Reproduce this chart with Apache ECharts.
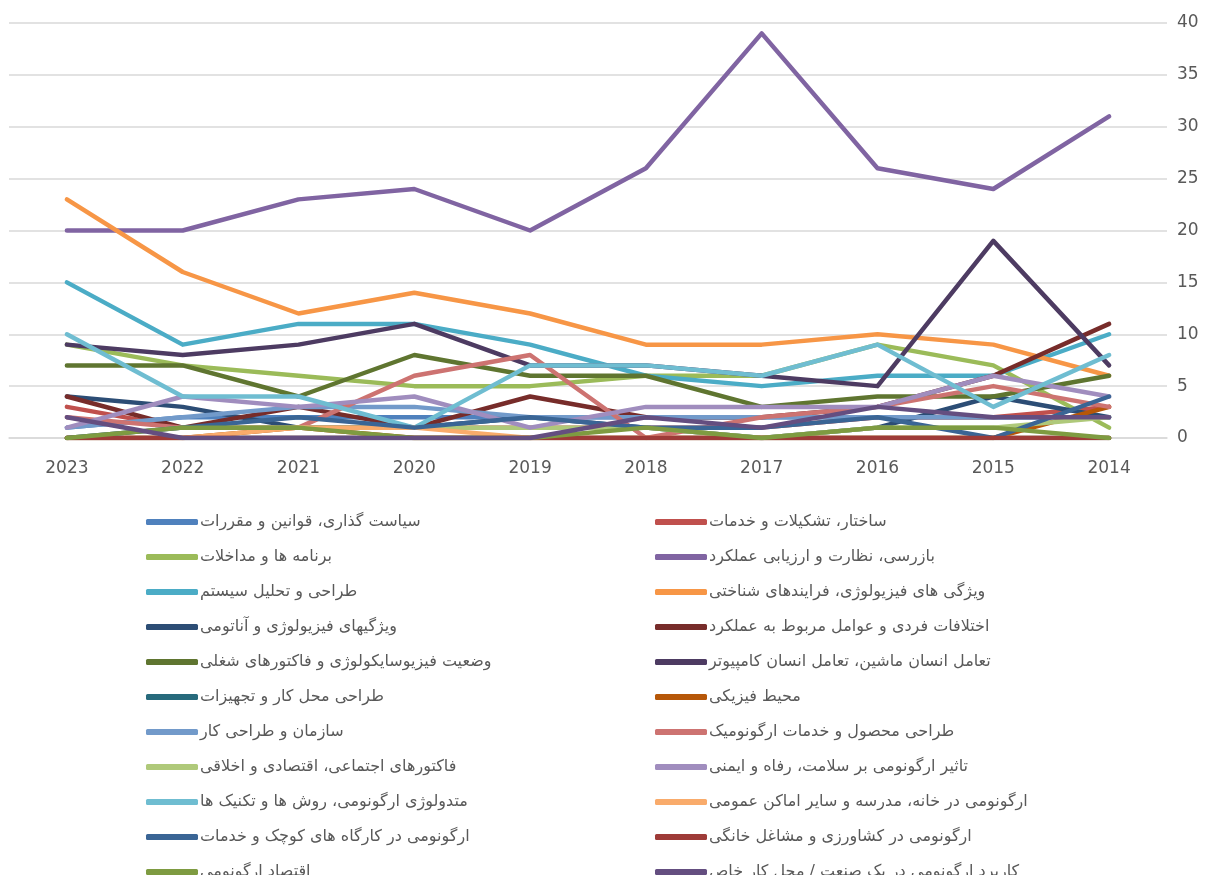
<!DOCTYPE html>
<html><head><meta charset="utf-8">
<script src="https://cdn.jsdelivr.net/npm/echarts@6/dist/echarts.min.js"></script>
<style>html,body{margin:0;padding:0;background:#fff}#c{width:1210px;height:875px}</style>
</head><body><div id="c"></div>
<script>
const years = ['2023','2022','2021','2020','2019','2018','2017','2016','2015','2014'];
const names = [
 'سیاست گذاری، قوانین و مقررات',
 'ساختار، تشکیلات و خدمات',
 'برنامه ها و مداخلات',
 'بازرسی، نظارت و ارزیابی عملکرد',
 'طراحی و تحلیل سیستم',
 'ویژگی های فیزیولوژی، فرایندهای شناختی',
 'ویژگیهای فیزیولوژی و آناتومی',
 'اختلافات فردی و عوامل مربوط به عملکرد',
 'وضعیت فیزیوسایکولوژی و فاکتورهای شغلی',
 'تعامل انسان ماشین، تعامل انسان کامپیوتر',
 'طراحی محل کار و تجهیزات',
 'محیط فیزیکی',
 'سازمان و طراحی کار',
 'طراحی محصول و خدمات ارگونومیک',
 'فاکتورهای اجتماعی، اقتصادی و اخلاقی',
 'تاثیر ارگونومی بر سلامت، رفاه و ایمنی',
 'متدولوژی ارگونومی، روش ها و تکنیک ها',
 'ارگونومی در خانه، مدرسه و سایر اماکن عمومی',
 'ارگونومی در کارگاه های کوچک و خدمات',
 'ارگونومی در کشاورزی و مشاغل خانگی',
 'اقتصاد ارگونومی',
 'کاربرد ارگونومی در یک صنعت / محل کار خاص'
];
const s1  = [1,2,2,2,2,2,2,2,2,2];
const s2  = [3,1,1,1,1,1,1,2,2,3];
const s3  = [9,7,6,5,5,6,6,9,7,1];
const s4  = [20,20,23,24,20,26,39,26,24,31];
const s5  = [15,9,11,11,9,6,5,6,6,10];
const s6  = [23,16,12,14,12,9,9,10,9,6];
const s7  = [4,3,1,1,2,1,0,1,4,2];
const s8  = [4,1,3,1,4,2,2,3,6,11];
const s9  = [7,7,4,8,6,6,3,4,4,6];
const s10 = [9,8,9,11,7,7,6,5,19,7];
const s11 = [0,0,0,0,0,0,0,0,0,0];
const s12 = [0,0,1,0,0,0,0,0,0,3];
const s13 = [1,2,3,3,2,2,2,2,2,2];
const s14 = [2,1,1,6,8,0,2,3,5,3];
const s15 = [0,1,1,1,1,1,0,1,1,2];
const s16 = [1,4,3,4,1,3,3,3,6,4];
const s17 = [10,4,4,1,7,7,6,9,3,8];
const s18 = [0,0,1,1,0,0,0,0,0,0];
const s19 = [0,1,2,1,2,1,1,2,0,4];
const s20 = [0,0,0,0,0,0,0,0,0,0];
const s21 = [0,1,1,0,0,1,0,1,1,0];
const s22 = [2,0,0,0,0,2,1,3,2,2];
const values = [s1,s2,s3,s4,s5,s6,s7,s8,s9,s10,s11,s12,s13,s14,s15,s16,s17,s18,s19,s20,s21,s22];
const colors = ['#4F81BD','#C0504D','#9BBB59','#8064A2','#4BACC6','#F79646',
 '#2C4D75','#772C2A','#5F7530','#4D3B62','#276A7C','#B65708',
 '#729ACA','#CD7371','#AFC97A','#A08DBE','#6FBDD1','#F9AB6B',
 '#3A6595','#9E3B38','#7E9B41','#644E80'];

const chart = echarts.init(document.getElementById('c'));
const font = '"DejaVu Sans", "Noto Sans", sans-serif';
const leftNames = names.filter((n,i)=>i%2===0);
const rightNames = names.filter((n,i)=>i%2===1);
const legendBase = {
  orient:'vertical', top:509, height:700, itemGap:19, itemWidth:52, itemHeight:6,
  icon:'roundRect', padding:5,
  textStyle:{fontFamily:font, fontSize:16, lineHeight:16, color:'#595959', padding:[0,0,0,-3]},
  selectedMode:false
};
chart.setOption({
  animation:false,
  color:colors,
  grid:{left:9, right:43, top:23, bottom:437, containLabel:false},
  legend:[
    Object.assign({}, legendBase, {left:141, width:480, data:leftNames}),
    Object.assign({}, legendBase, {left:650, width:500, data:rightNames})
  ],
  xAxis:{type:'category', data:years, boundaryGap:true,
    axisLine:{lineStyle:{color:'#d9d9d9', width:1.5}}, axisTick:{show:false},
    axisLabel:{fontFamily:font, fontSize:17, color:'#595959', margin:22}},
  yAxis:{type:'value', position:'right', min:0, max:40, interval:5,
    axisLine:{show:false}, axisTick:{show:false},
    axisLabel:{fontFamily:font, fontSize:17, color:'#595959', margin:10},
    splitLine:{lineStyle:{color:'#d9d9d9', width:1.5}}},
  series: values.map((v,i)=>({
    name:names[i], type:'line', data:v, showSymbol:false, symbol:'none',
    lineStyle:{width:4.5, color:colors[i], cap:'round', join:'round'},
    itemStyle:{color:colors[i]}
  }))
});
</script></body></html>
